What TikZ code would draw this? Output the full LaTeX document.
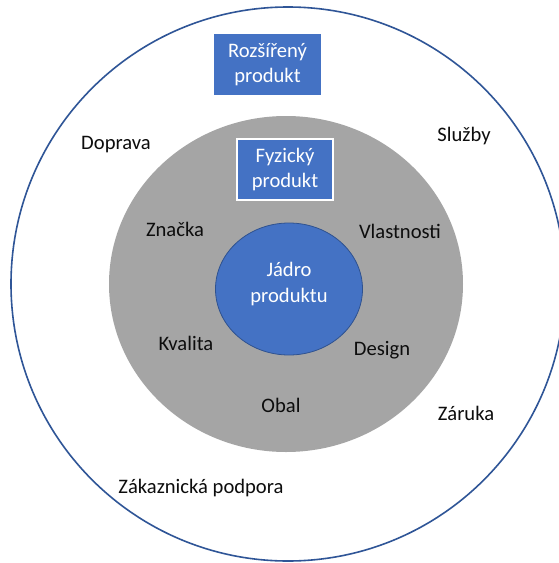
\documentclass[tikz,border=0pt]{standalone}
\usepackage{fontspec}
\setmainfont{Carlito}
\usetikzlibrary{shapes.geometric}
\definecolor{boxblue}{HTML}{4472C4}
\definecolor{ringblue}{HTML}{2F5597}
\definecolor{coreedge}{HTML}{2F528F}
\definecolor{layergray}{HTML}{A5A5A5}
\definecolor{labelink}{HTML}{0D0D0D}
\begin{document}
\begin{tikzpicture}[x=1pt,y=-1pt,
  every node/.style={font=\fontsize{20.6}{25.5}\selectfont},
  label/.style={text=labelink, inner sep=0pt},
  tagbox/.style={fill=boxblue, text=white, align=center, inner sep=0pt},
]
\useasboundingbox (0,0) rectangle (559,563);
\clip (0,0) rectangle (559,563);
\fill[white] (0,0) rectangle (559,563);

% outer ring: extended product
\draw[ringblue, line width=1.6pt] (288,284) circle[radius=277];
% physical product layer
\fill[layergray] (286,284) ellipse[x radius=177, y radius=168];
% core
\node[ellipse, fill=boxblue, draw=coreedge, line width=0.8pt,
      minimum width=147pt, minimum height=132pt, inner sep=0pt] (core) at (289,289) {};
\node[text=white, align=center, inner sep=0pt] (coretext) at (289,284) {Jádro\\produktu};

% layer titles
\node[tagbox, minimum width=107pt, minimum height=61pt] (ext) at (267.5,64.5) {Rozšířený\\produkt};
\node[tagbox, draw=white, line width=1.8pt, minimum width=96pt, minimum height=61pt] (phys) at (285,169.5) {Fyzický\\produkt};

% physical product attributes
\node[label] (brand) at (175,229) {Značka};
\node[label] (feat) at (400,231) {Vlastnosti};
\node[label] (qual) at (186,343) {Kvalita};
\node[label] (design) at (382,350) {Design};
\node[label] (pack) at (281,405) {Obal};

% extended product attributes
\node[label] (trans) at (116,145) {Doprava};
\node[label] (serv) at (464,136) {Služby};
\node[label] (warr) at (466,413) {Záruka};
\node[label] (supp) at (201,488) {Zákaznická podpora};
\end{tikzpicture}
\end{document}
